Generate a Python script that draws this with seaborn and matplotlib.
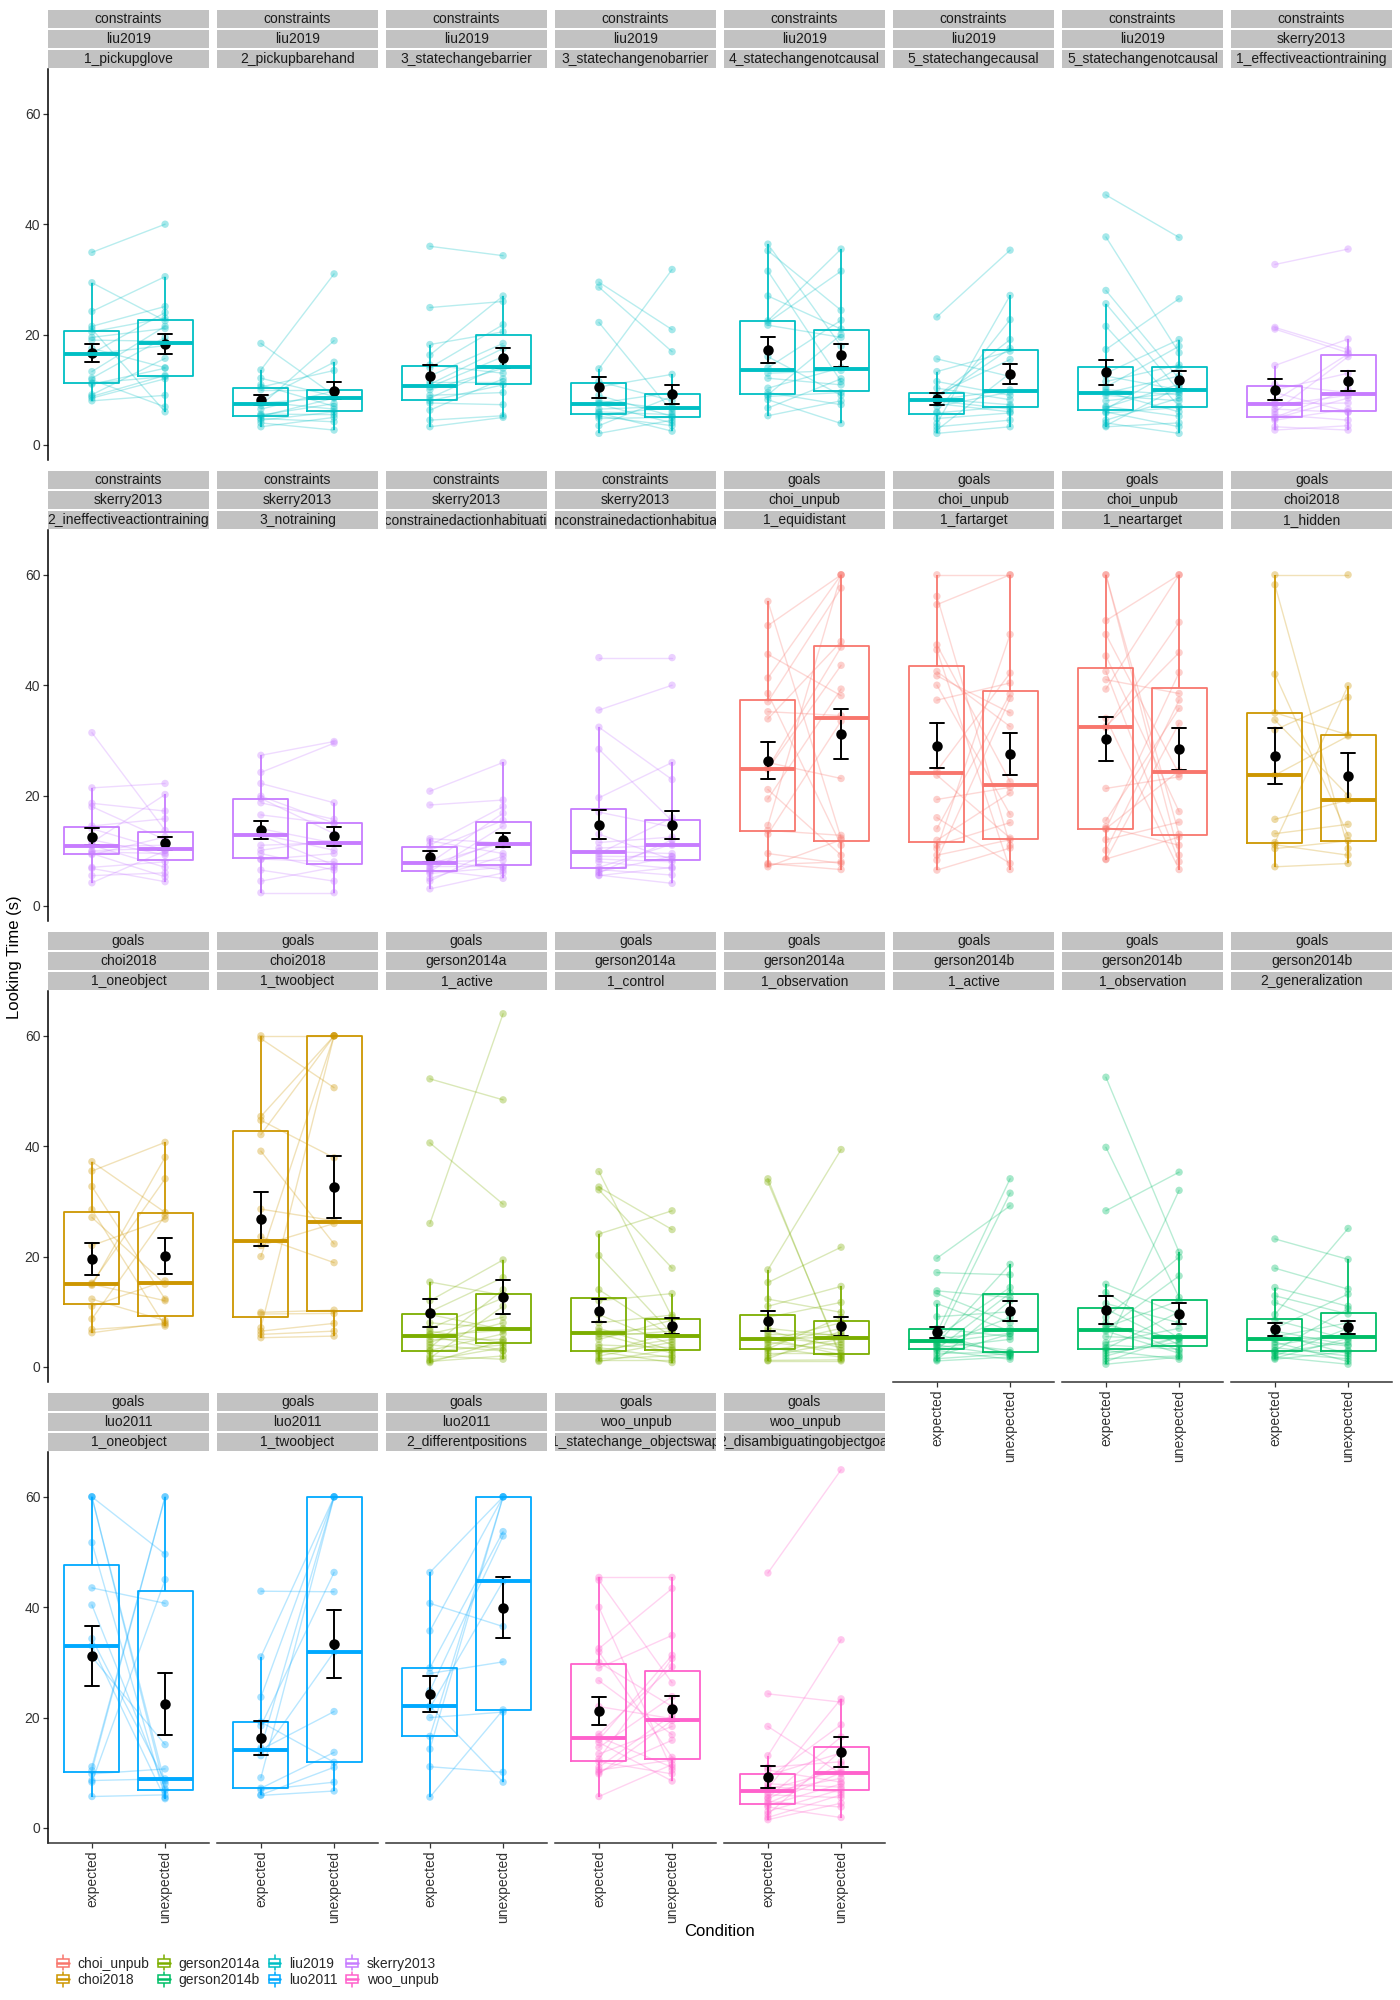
import numpy as np
import pandas as pd
import matplotlib
matplotlib.use("Agg")
import matplotlib.pyplot as plt
from matplotlib.patches import Rectangle, Patch
from matplotlib.lines import Line2D
from matplotlib.legend_handler import HandlerBase
import seaborn as sns

sns.set_style("white")
plt.rcParams["font.family"] = ["Liberation Sans", "DejaVu Sans"]

# ---------------- data ----------------
conditions = ["expected", "unexpected"]
paper_order = ["choi_unpub", "choi2018", "gerson2014a", "gerson2014b",
               "liu2019", "luo2011", "skerry2013", "woo_unpub"]
paper_colors = ["#F8766D", "#CD9600", "#7CAE00", "#00BE67",
                "#00BFC4", "#00A9FF", "#C77CFF", "#FF61CC"]

category = ["constraints"] * 12 + ["goals"] * 17
paper = (["liu2019"] * 7 + ["skerry2013"] * 5 + ["choi_unpub"] * 3 + ["choi2018"] * 3
         + ["gerson2014a"] * 3 + ["gerson2014b"] * 3 + ["luo2011"] * 3 + ["woo_unpub"] * 2)
experiment = ["1_pickupglove", "2_pickupbarehand", "3_statechangebarrier", "3_statechangenobarrier",
              "4_statechangenotcausal", "5_statechangecausal", "5_statechangenotcausal",
              "1_effectiveactiontraining", "2_ineffectiveactiontraining", "3_notraining",
              "4_constrainedactionhabituation", "4_unconstrainedactionhabituation",
              "1_equidistant", "1_fartarget", "1_neartarget", "1_hidden", "1_oneobject", "1_twoobject",
              "1_active", "1_control", "1_observation", "1_active", "1_observation", "2_generalization",
              "1_oneobject", "1_twoobject", "2_differentpositions", "1_statechange_objectswap",
              "2_disambiguatingobjectgoal"]

expected_lt = [
    [34.9, 29.4, 24.2, 21.5, 21.0, 20.5, 19.5, 19.0, 17.5, 16.6, 16.5, 13.3, 12.1, 11.8, 11.2, 11.0, 9.1, 8.8, 8.0, 8.5],
    [18.4, 13.6, 12.1, 10.9, 10.5, 10.0, 8.2, 7.8, 7.6, 7.2, 6.5, 5.6, 5.4, 5.2, 4.8, 4.5, 4.0, 3.3],
    [36.0, 24.9, 18.2, 16.3, 14.5, 14.0, 12.5, 11.5, 11.0, 10.0, 9.0, 8.5, 8.0, 7.6, 6.3, 4.5, 3.3, 10.5],
    [29.5, 28.6, 22.2, 13.8, 11.5, 10.5, 9.0, 8.0, 7.6, 7.4, 6.5, 6.0, 5.8, 5.5, 5.2, 4.8, 3.5, 2.1],
    [36.4, 35.2, 31.5, 27.0, 22.5, 22.2, 21.7, 16.0, 14.0, 13.0, 12.1, 10.3, 9.5, 9.1, 8.8, 8.2, 6.7, 5.3],
    [23.2, 15.6, 13.3, 11.5, 10.3, 9.1, 8.8, 8.3, 8.2, 8.0, 7.0, 6.0, 5.8, 4.8, 3.9, 3.3, 2.7, 2.1, 8.5, 7.5],
    [45.3, 37.7, 28.0, 25.6, 21.5, 17.3, 13.0, 12.5, 11.5, 10.5, 10.0, 9.6, 9.4, 9.0, 8.0, 7.0, 6.8, 6.5, 6.0, 5.8, 4.5, 4.0, 3.3, 3.5],
    [32.7, 21.3, 21.0, 14.4, 11.0, 10.0, 9.5, 8.0, 7.5, 7.2, 6.5, 6.0, 5.5, 4.8, 4.5, 3.3, 2.7, 5.0],
    [31.4, 21.4, 18.6, 18.0, 14.5, 14.0, 12.0, 11.5, 11.0, 10.8, 10.0, 9.5, 9.8, 9.3, 7.0, 6.8, 5.5, 4.2],
    [27.3, 24.2, 22.2, 19.9, 18.7, 19.5, 16.5, 14.0, 13.0, 12.8, 11.0, 10.1, 9.5, 8.5, 8.4, 6.5, 4.5, 2.4],
    [20.8, 18.3, 12.2, 11.8, 10.1, 11.0, 8.5, 8.0, 7.8, 7.6, 7.2, 6.8, 6.5, 6.2, 5.9, 5.0, 4.5, 3.1],
    [45.0, 35.5, 32.4, 28.4, 19.6, 17.0, 13.0, 11.5, 10.5, 9.9, 9.5, 9.0, 8.0, 7.0, 6.6, 6.2, 5.6, 5.5, 6.0, 8.5],
    [55.2, 50.8, 45.6, 41.3, 38.5, 37.0, 35.2, 33.9, 26.0, 25.0, 24.8, 21.1, 19.4, 14.6, 13.7, 13.0, 9.5, 7.7, 7.1, 7.5],
    [60.0, 56.1, 54.6, 47.3, 46.4, 41.7, 40.0, 37.3, 24.5, 23.7, 19.3, 16.0, 14.0, 11.9, 11.0, 10.4, 9.2, 8.3, 6.5, 42.5],
    [60.0, 60.0, 51.7, 49.2, 45.3, 41.0, 39.3, 34.0, 32.5, 32.3, 21.3, 15.5, 14.3, 13.9, 12.0, 10.1, 8.4, 8.5, 42.5, 14.0],
    [60.0, 58.2, 42.0, 35.0, 33.7, 31.9, 23.7, 15.7, 13.1, 11.5, 11.1, 10.4, 7.1],
    [37.2, 35.5, 32.7, 27.1, 28.5, 22.0, 15.2, 15.0, 14.8, 12.3, 11.0, 8.7, 6.8, 6.2],
    [60.0, 59.5, 45.4, 44.7, 42.1, 39.1, 28.6, 23.6, 22.0, 20.0, 9.9, 9.6, 7.1, 6.5, 5.9, 5.3],
    [52.2, 40.6, 26.0, 15.4, 12.0, 10.0, 9.5, 8.0, 7.0, 6.5, 6.0, 5.8, 5.6, 5.0, 4.5, 4.0, 3.5, 3.0, 2.8, 2.0, 1.6, 1.2, 1.0, 0.8],
    [35.4, 32.6, 32.1, 24.1, 20.2, 14.0, 12.0, 9.5, 8.0, 7.0, 6.5, 6.2, 6.0, 5.5, 5.0, 4.0, 3.5, 3.0, 2.8, 2.0, 1.5, 1.2, 1.0, 2.5],
    [34.1, 33.5, 17.6, 15.3, 12.3, 11.0, 9.0, 7.0, 6.0, 5.5, 5.2, 5.0, 4.8, 4.5, 4.0, 3.5, 3.3, 3.0, 2.5, 2.0, 1.5, 1.1, 1.2, 6.5],
    [19.7, 17.1, 13.8, 13.3, 11.5, 9.1, 7.0, 6.2, 6.0, 5.5, 5.2, 5.0, 4.8, 4.6, 4.4, 4.2, 4.0, 3.8, 3.5, 3.2, 3.0, 2.5, 2.0, 1.5, 1.1, 1.3],
    [52.5, 39.8, 28.3, 15.0, 13.5, 11.5, 10.5, 9.0, 8.0, 7.5, 7.2, 6.8, 6.5, 5.5, 4.4, 4.0, 3.5, 3.3, 3.0, 2.5, 2.0, 1.5, 0.5, 1.0],
    [23.2, 17.9, 14.4, 12.9, 11.7, 9.5, 8.5, 7.0, 6.5, 6.0, 5.5, 5.2, 5.0, 4.5, 4.0, 3.5, 3.0, 2.9, 2.6, 2.5, 2.0, 1.8, 1.4, 1.6],
    [60.0, 60.0, 60.0, 51.7, 43.5, 40.4, 34.3, 33.0, 31.0, 11.1, 10.4, 9.8, 8.6, 8.3, 5.7],
    [42.9, 31.0, 23.7, 19.2, 18.5, 14.5, 14.2, 13.1, 9.1, 7.2, 6.9, 6.0, 5.9],
    [46.3, 40.7, 35.7, 29.0, 24.9, 22.1, 21.8, 20.0, 16.6, 14.3, 11.1, 5.6, 28.0],
    [45.4, 44.9, 40.0, 32.5, 31.9, 29.0, 26.7, 22.0, 17.0, 16.5, 16.0, 15.5, 14.6, 13.4, 12.5, 12.0, 11.0, 10.5, 10.1, 9.8, 5.7, 30.0],
    [46.2, 24.3, 18.4, 13.1, 11.0, 10.5, 9.5, 9.0, 8.0, 7.5, 7.2, 7.0, 6.5, 6.0, 5.5, 5.3, 4.8, 4.1, 3.8, 3.0, 2.5, 1.9, 1.5, 4.5],
]

unexpected_lt = [
    [40.0, 22.5, 30.5, 25.1, 6.0, 23.0, 21.1, 18.8, 14.0, 24.0, 18.0, 21.5, 19.5, 6.9, 12.4, 13.9, 15.7, 12.6, 9.0, 12.0],
    [9.0, 31.0, 8.8, 7.0, 13.5, 10.0, 15.0, 6.5, 8.6, 18.9, 9.8, 5.5, 7.5, 8.5, 4.2, 6.0, 2.7, 5.0],
    [34.3, 26.0, 20.5, 27.0, 13.0, 21.8, 18.4, 11.5, 17.5, 13.9, 9.5, 14.5, 10.9, 7.3, 12.0, 5.3, 5.0, 16.0],
    [20.9, 16.9, 6.0, 31.8, 8.0, 12.8, 5.2, 6.5, 9.5, 4.0, 7.0, 5.5, 2.5, 6.8, 3.5, 5.0, 8.8, 4.5],
    [17.9, 24.4, 11.5, 21.0, 35.5, 31.5, 19.5, 9.0, 22.6, 13.5, 10.9, 14.0, 7.3, 20.0, 9.5, 3.9, 12.0, 8.0],
    [35.3, 12.4, 17.0, 9.0, 8.2, 15.5, 19.1, 7.3, 10.0, 6.5, 9.6, 22.7, 7.0, 5.8, 27.1, 4.5, 13.0, 3.3, 17.5, 6.0],
    [37.6, 16.7, 12.0, 9.8, 7.0, 26.5, 19.1, 10.0, 14.5, 17.9, 9.1, 6.0, 12.5, 8.0, 9.5, 5.2, 11.0, 14.0, 3.3, 6.8, 8.5, 2.1, 4.0, 10.5],
    [35.5, 17.3, 16.7, 19.2, 9.5, 13.0, 6.0, 16.5, 7.6, 9.0, 5.9, 16.0, 4.5, 8.5, 6.5, 2.7, 3.5, 10.0],
    [13.7, 22.2, 17.2, 12.0, 15.8, 10.1, 9.2, 20.2, 7.0, 11.0, 10.5, 5.3, 9.5, 12.5, 8.0, 4.4, 6.0, 10.0],
    [29.8, 29.5, 18.7, 15.0, 15.7, 13.1, 14.9, 11.4, 10.1, 7.4, 11.5, 12.0, 6.5, 8.0, 9.5, 4.5, 7.0, 2.4],
    [26.0, 19.2, 11.4, 9.5, 15.5, 18.0, 6.5, 8.3, 16.8, 11.5, 7.2, 12.0, 5.0, 14.5, 7.0, 9.0, 11.0, 6.0],
    [45.0, 40.0, 22.9, 15.4, 26.0, 14.3, 8.4, 12.5, 11.0, 9.5, 16.0, 8.9, 6.8, 11.2, 5.6, 9.0, 4.1, 7.0, 12.0, 8.0],
    [12.3, 60.0, 38.1, 60.0, 11.0, 57.6, 34.5, 47.9, 23.1, 46.9, 43.6, 9.2, 39.3, 60.0, 12.8, 33.5, 7.7, 6.6, 12.0, 8.0],
    [60.0, 11.0, 60.0, 22.5, 6.6, 35.0, 16.6, 40.4, 42.2, 12.3, 21.5, 7.7, 38.4, 20.5, 15.1, 49.2, 12.0, 37.6, 10.5, 32.5],
    [13.0, 9.2, 60.0, 23.9, 17.1, 38.5, 60.0, 6.6, 45.9, 51.4, 23.4, 35.8, 11.0, 42.3, 15.2, 37.3, 33.1, 12.5, 8.0, 24.5],
    [60.0, 10.4, 12.8, 31.0, 20.0, 37.8, 30.8, 19.2, 14.8, 39.9, 9.2, 11.8, 7.7],
    [28.0, 40.7, 12.3, 15.0, 7.4, 26.8, 34.1, 12.0, 38.0, 8.4, 15.6, 27.4, 7.7, 8.0],
    [60.0, 50.6, 60.0, 37.9, 60.0, 22.3, 26.5, 18.9, 26.0, 60.0, 10.3, 9.7, 60.0, 7.9, 6.5, 5.6],
    [48.4, 29.5, 64.0, 13.0, 19.4, 16.2, 6.8, 7.0, 12.5, 4.4, 9.0, 6.6, 3.0, 5.0, 8.0, 2.9, 14.0, 6.0, 4.0, 1.4, 11.0, 3.5, 2.0, 4.8],
    [9.0, 24.9, 17.9, 28.3, 6.0, 5.5, 13.3, 4.0, 9.4, 3.0, 7.0, 5.8, 2.5, 6.5, 8.5, 3.5, 1.7, 5.0, 0.8, 4.5, 2.0, 1.2, 3.2, 6.2],
    [1.5, 2.0, 39.4, 21.7, 9.9, 14.6, 11.7, 5.6, 6.0, 4.0, 2.2, 5.5, 8.0, 3.0, 7.0, 1.8, 9.0, 5.0, 2.5, 4.5, 6.5, 1.1, 1.3, 3.5],
    [29.2, 16.7, 12.6, 8.0, 6.5, 10.0, 5.5, 34.1, 2.2, 14.4, 2.5, 7.0, 31.5, 3.0, 6.1, 18.6, 2.0, 9.0, 5.0, 13.4, 1.4, 2.6, 6.0, 2.4, 1.8, 12.0],
    [20.8, 12.6, 35.3, 9.6, 5.2, 8.0, 4.0, 19.9, 3.0, 5.2, 12.0, 16.5, 2.5, 5.0, 7.0, 3.2, 32.0, 10.0, 1.4, 4.5, 5.5, 2.0, 1.8, 5.5],
    [19.5, 14.1, 11.0, 9.6, 6.5, 25.1, 5.0, 13.2, 4.0, 2.4, 8.0, 3.8, 5.5, 1.0, 6.0, 2.0, 10.5, 3.0, 4.5, 1.5, 7.0, 0.5, 2.8, 5.2],
    [8.0, 6.8, 49.6, 5.5, 40.7, 7.1, 8.5, 5.3, 15.1, 60.0, 60.0, 10.7, 8.9, 45.0, 6.0],
    [42.8, 60.0, 60.0, 11.9, 46.3, 60.0, 21.1, 31.9, 60.0, 13.7, 8.3, 11.0, 6.7],
    [60.0, 36.5, 60.0, 53.7, 52.9, 8.3, 44.7, 21.0, 60.0, 60.0, 10.1, 21.4, 30.1],
    [45.4, 26.3, 10.5, 43.4, 12.8, 34.9, 16.9, 19.8, 29.2, 11.0, 31.3, 8.5, 23.8, 18.4, 30.7, 9.8, 20.5, 12.3, 15.9, 19.5, 11.5, 22.0],
    [64.9, 22.8, 9.8, 34.1, 12.0, 8.3, 13.6, 18.7, 7.4, 6.5, 23.4, 10.5, 9.0, 5.5, 16.5, 11.5, 3.8, 8.0, 1.9, 7.0, 14.0, 6.0, 4.5, 10.0],
]

# ---------------- long table ----------------
rows = []
for i in range(len(experiment)):
    n = min(len(expected_lt[i]), len(unexpected_lt[i]))
    for j in range(n):
        for k, vals in enumerate((expected_lt[i], unexpected_lt[i])):
            rows.append(dict(facet=i, subject=j, condition=conditions[k], xpos=k, lt=vals[j]))
df = pd.DataFrame(rows)

palette = dict(zip(paper_order, paper_colors))
all_vals = df["lt"].to_numpy()
rng = all_vals.max() - all_vals.min()
ylim = (all_vals.min() - 0.05 * rng, all_vals.max() + 0.05 * rng)


class BoxKeyHandler(HandlerBase):
    """Legend key drawn as a small boxplot glyph."""
    def create_artists(self, legend, orig_handle, xdescent, ydescent, width, height,
                       fontsize, trans):
        col = orig_handle.get_edgecolor()
        x0, y0 = -xdescent, -ydescent
        xc = x0 + width / 2
        box = Rectangle((x0 + 0.08 * width, y0 + 0.22 * height), 0.84 * width, 0.56 * height,
                        facecolor="white", edgecolor=col, linewidth=1.1, transform=trans)
        med = Line2D([x0 + 0.08 * width, x0 + 0.92 * width], [y0 + 0.5 * height] * 2,
                     color=col, linewidth=1.8, transform=trans)
        w1 = Line2D([xc, xc], [y0 - 0.05 * height, y0 + 0.22 * height], color=col,
                    linewidth=1.1, transform=trans)
        w2 = Line2D([xc, xc], [y0 + 0.78 * height, y0 + 1.05 * height], color=col,
                    linewidth=1.1, transform=trans)
        return [w1, w2, box, med]


# ---------------- layout (pixels) ----------------
W, H = 1400, 2000
fig = plt.figure(figsize=(14, 20), dpi=100)
left0, pitch_x, pw = 48, 169, 161
top0, pitch_y = 9, 461
strip_h, panel_h = 60, 391
ncols = 8
nfac = len(experiment)
FS = 10.0
strip_bg = "#C2C2C2"

for i in range(nfac):
    r, c = divmod(i, ncols)
    x0 = left0 + c * pitch_x
    st = top0 + r * pitch_y
    # strip
    axs = fig.add_axes([x0 / W, 1 - (st + strip_h) / H, pw / W, strip_h / H])
    axs.set_xlim(0, 1)
    axs.set_ylim(0, 3)
    axs.axis("off")
    labels3 = [category[i], paper[i], experiment[i]]
    for k, lab in enumerate(labels3):
        y0 = 2 - k
        axs.add_patch(Rectangle((0, y0 + 0.03), 1, 0.94, facecolor=strip_bg,
                                edgecolor="none", clip_on=False))
        t = axs.text(0.5, y0 + 0.48, lab, ha="center", va="center", fontsize=FS,
                     color="#1A1A1A", clip_on=True)
        t.set_clip_box(axs.bbox)

    # panel
    ax = fig.add_axes([x0 / W, 1 - (st + strip_h + panel_h) / H, pw / W, panel_h / H])
    sub = df[df["facet"] == i]
    col = palette[paper[i]]
    sns.lineplot(data=sub, x="xpos", y="lt", units="subject", estimator=None,
                 color=col, alpha=0.28, linewidth=1.0, ax=ax, legend=False)
    sns.scatterplot(data=sub, x="xpos", y="lt", color=col, alpha=0.35, s=28,
                    edgecolor="none", ax=ax, legend=False, zorder=2)
    sns.boxplot(data=sub, x="xpos", y="lt", native_scale=True, color=col, fill=False,
                width=0.75, showfliers=False, linewidth=1.3,
                medianprops=dict(linewidth=2.8), capprops=dict(visible=False), ax=ax)
    sns.pointplot(data=sub, x="xpos", y="lt", native_scale=True, color="black",
                  errorbar="se", capsize=0.19, linestyle="none", markersize=5.5,
                  err_kws=dict(linewidth=1.4), ax=ax)
    ax.set_xlim(-0.6, 1.6)
    ax.set_ylim(*ylim)
    ax.set_xlabel("")
    ax.set_ylabel("")
    ax.grid(False)
    for s in ax.spines.values():
        s.set_visible(False)
    ax.set_facecolor("none")
    if c == 0:
        ax.spines["left"].set_visible(True)
        ax.spines["left"].set_color("black")
        ax.spines["left"].set_linewidth(1.1)
        ax.set_yticks([0, 20, 40, 60])
        ax.tick_params(axis="y", left=True, length=3.5, width=0.9, color="#333333",
                       labelsize=FS, labelcolor="#333333", pad=2)
    else:
        ax.set_yticks([])
    if i + ncols >= nfac:
        ax.spines["bottom"].set_visible(True)
        ax.spines["bottom"].set_color("#333333")
        ax.spines["bottom"].set_linewidth(1.1)
        ax.set_xticks([0, 1])
        ax.set_xticklabels(conditions, rotation=90, ha="center", va="top")
        ax.tick_params(axis="x", bottom=True, length=3.5, width=0.9, color="#333333",
                       labelsize=FS, labelcolor="#333333", pad=2)
    else:
        ax.set_xticks([])

# axis titles
fig.text(15 / W, 1 - 957 / H, "Looking Time (s)", rotation=90, ha="center", va="center",
         fontsize=12, color="black")
fig.text(720 / W, 1 - 1932 / H, "Condition", ha="center", va="center",
         fontsize=12, color="black")

# legend
handles = [Patch(facecolor="white", edgecolor=palette[p]) for p in paper_order]
fig.legend(handles, paper_order, loc="upper left", bbox_to_anchor=(56 / W, 1 - 1956 / H),
           ncol=4, frameon=False, fontsize=FS, handlelength=1.0, handleheight=1.15,
           handletextpad=0.55, columnspacing=0.55, labelspacing=0.12, borderpad=0,
           borderaxespad=0, handler_map={Patch: BoxKeyHandler()})

fig.savefig("out.png", dpi=100, facecolor="white")
